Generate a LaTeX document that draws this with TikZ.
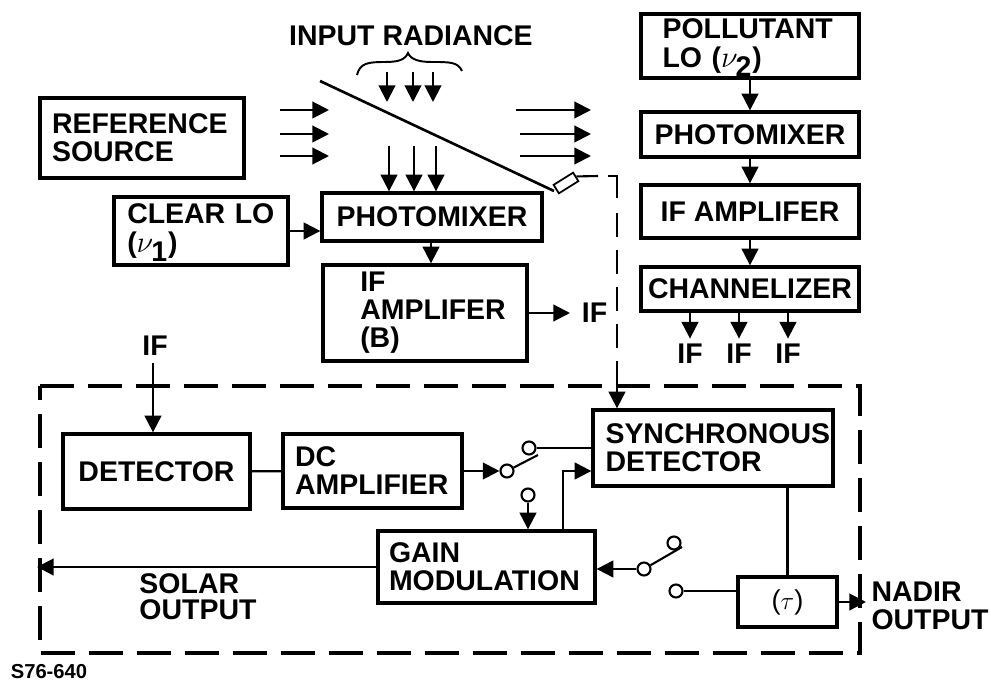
\documentclass[tikz,border=0pt]{standalone}
\usepackage{amsmath}
\usepackage{fontspec}
\setmainfont{Liberation Sans}
\usetikzlibrary{arrows.meta}

\begin{document}
\begin{tikzpicture}[x=0.02cm, y=-0.02cm, block/.style={draw, line width=1.9pt, inner sep=0pt, align=left, font=\fontsize{16.2}{16}\selectfont\bfseries}, txt/.style={inner sep=0pt, align=left, font=\fontsize{16.2}{16}\selectfont\bfseries}, flow/.style={line width=1.2pt, -{Triangle[length=9.5pt,width=9.5pt]}}, wire/.style={line width=1.2pt}, contact/.style={circle, draw, line width=1.2pt, fill=white, minimum size=0.26cm, inner sep=0pt}]
\useasboundingbox (0,0) rectangle (991,682);
% upper blocks
\node[block, minimum width=4.08cm, minimum height=1.6cm, text width=3.6cm] (refsource) at (142,138) {REFERENCE\\SOURCE};
\node[block, minimum width=3.48cm, minimum height=1.36cm, text width=2.95cm] (clearlo) at (201,231) {CLEAR LO\\(\smash{$\nu_{\mbox{1}}$})};
\node[block, minimum width=4.4cm, minimum height=0.96cm] (mixerb) at (432,217) {PHOTOMIXER};
\node[block, minimum width=4.08cm, minimum height=1.92cm] (ampb) at (425,313) {};
\node[block, minimum width=4.36cm, minimum height=1.28cm, text width=3.5cm] (pollutant) at (750,46) {POLLUTANT\\LO (\smash{$\nu_{\mbox{2}}$})};
\node[block, minimum width=4.36cm, minimum height=0.9cm] (mixera) at (750,134.5) {PHOTOMIXER};
\node[block, minimum width=4.36cm, minimum height=1.06cm] (ampa) at (750,211.5) {IF AMPLIFER};
\node[block, minimum width=4.36cm, minimum height=0.88cm] (channelizer) at (750,289) {CHANNELIZER};
% lower blocks
\node[block, minimum width=3.74cm, minimum height=1.5cm] (detector) at (156.5,471.5) {DETECTOR};
\node[block, minimum width=3.58cm, minimum height=1.48cm, text width=3.1cm] (dcamp) at (372.5,471) {DC\\AMPLIFIER};
\node[block, minimum width=4.8cm, minimum height=1.52cm, text width=4.3cm] (sync) at (713,448) {SYNCHRONOUS\\DETECTOR};
\node[block, minimum width=4.34cm, minimum height=1.44cm, text width=3.9cm] (gain) at (486.5,567) {GAIN\\MODULATION};
\node[block, minimum width=1.98cm, minimum height=1cm, font=\fontsize{15.5}{17}\selectfont] (tau) at (787.5,602) {($\tau$)};
% labels
\node[txt] (radiance) at (411,36) {INPUT RADIANCE};
\node[txt] (ampblabel) at (433,313) {IF\\AMPLIFER\\(B)};
\node[txt] (ifb) at (594.5,313) {IF};
\node[txt] (ifa1) at (690,354) {IF};
\node[txt] (ifa2) at (739,354) {IF};
\node[txt] (ifa3) at (788,354) {IF};
\node[txt] (iftop) at (155,346) {IF};
\node[txt, font=\fontsize{16.2}{15}\selectfont\bfseries] (solar) at (198,597) {SOLAR\\OUTPUT};
\node[txt] (nadir) at (930,606) {NADIR\\OUTPUT};
\node[inner sep=0pt, font=\fontsize{11.5}{13}\selectfont\bfseries] (tag) at (49,672) {S76-640};
% switches
\node[contact] (swa) at (507,471) {};
\node[contact] (swb) at (529,448) {};
\node[contact] (swc) at (528,495) {};
\node[contact] (swd) at (644,569) {};
\node[contact] (swe) at (674,543) {};
\node[contact] (swf) at (676,591) {};
% free ends
\coordinate (bladea) at (538,455);
\coordinate (bladeb) at (682,547);
\coordinate (solarend) at (37,567);
\coordinate (nadirend) at (866,602);
\coordinate (ifbend) at (570,313);
\coordinate (iftopend) at (153,363);
\coordinate (mirrora) at (320,81);
\coordinate (mirrorb) at (554,191);
\coordinate (ina1) at (387,72);
\coordinate (ina2) at (413,72);
\coordinate (ina3) at (433,72);
\coordinate (outa1) at (387,102);
\coordinate (outa2) at (413,102);
\coordinate (outa3) at (433,102);
\coordinate (inb1) at (389,146);
\coordinate (inb2) at (414,146);
\coordinate (inb3) at (436,146);
\coordinate (ll1) at (280,110);
\coordinate (ll2) at (280,134);
\coordinate (ll3) at (280,156);
\coordinate (lr1) at (329,110);
\coordinate (lr2) at (329,134);
\coordinate (lr3) at (329,156);
\coordinate (rl1) at (516,110);
\coordinate (rl2) at (520,134);
\coordinate (rl3) at (520,156);
\coordinate (rr1) at (591,110);
\coordinate (rr2) at (591,134);
\coordinate (rr3) at (591,156);
% mirror and sensor
\draw[line width=1.5pt] (mirrora) -- (mirrorb);
\node[draw, line width=1pt, fill=white, rotate=32, minimum width=0.46cm, minimum height=0.2cm, inner sep=0pt] (sensor) at (566,183) {};
\draw[line width=1.1pt] (357,75) .. controls (360,63) and (368,62) .. (385,62) .. controls (398,62) and (405,60) .. (408,53) .. controls (411,60) and (420,62) .. (432,62) .. controls (450,62) and (458,62) .. (462,71);
% beams
\path[flow]
(ina1) edge (outa1)
(ina2) edge (outa2)
(ina3) edge (outa3)
(inb1) edge (inb1 |- mixerb.north)
(inb2) edge (inb2 |- mixerb.north)
(inb3) edge (inb3 |- mixerb.north)
(ll1) edge (lr1)
(ll2) edge (lr2)
(ll3) edge (lr3)
(rl1) edge (rr1)
(rl2) edge (rr2)
(rl3) edge (rr3);
% connectors
\path[flow]
(clearlo.east) edge (clearlo.east -| mixerb.west)
(mixerb.south -| 431,0) edge (ampb.north -| 431,0)
(pollutant) edge (mixera)
(mixera) edge (ampa)
(ampa) edge (channelizer)
(ampb.east) edge (ifbend)
(channelizer.south -| ifa1) edge[shorten >=3pt] (ifa1.north)
(channelizer.south -| ifa2) edge[shorten >=3pt] (ifa2.north)
(channelizer.south -| ifa3) edge[shorten >=3pt] (ifa3.north)
(iftopend) edge (iftopend |- detector.north)
(dcamp.east) edge (swa.west)
(swc.south) edge (swc.south |- gain.north)
(swd.west) edge (swd.west -| gain.east)
(gain.west |- solarend) edge (solarend)
(tau.east |- nadirend) edge (nadirend);
\path[wire]
(detector) edge (dcamp)
(swa) edge (bladea)
(swb.east) edge (swb.east -| sync.west)
(swd) edge (bladeb)
(swf.east) edge (swf.east -| tau.west)
(sync.south -| tau.north) edge (tau.north);
\draw[flow] (gain.north -| 563,0) |- (sync.west |- 0,471);
% dashed
\draw[wire] (sensor.east) -- (598,176);
\draw[wire] (608,176) -- (617,176) -- (617,198);
\draw[wire, dash pattern=on 13.6pt off 7.4pt] (617,213) -- (617,348);
\draw[flow] (617,361) -- (sync.north -| 617,0);
\draw[line width=2pt, dash pattern=on 0.68cm off 0.28cm] (40,386) -- (860,386) -- (860,653) -- (40,653) -- cycle;
\end{tikzpicture}
\end{document}
